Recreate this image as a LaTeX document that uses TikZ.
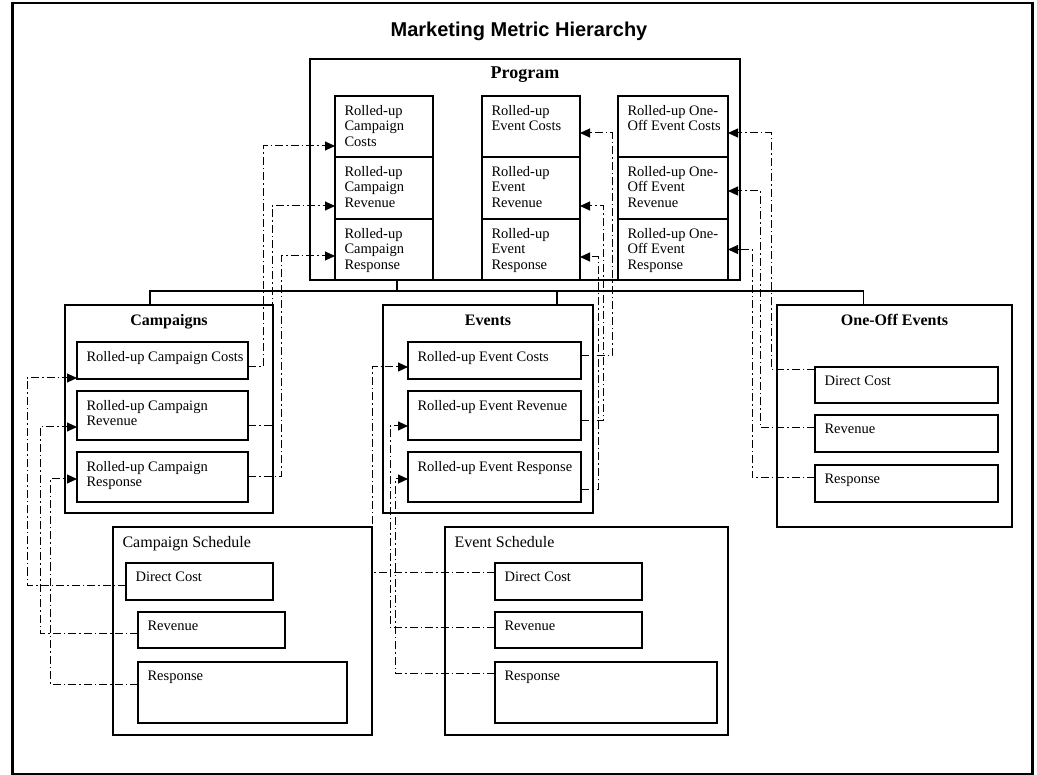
\documentclass[tikz,border=0pt]{standalone}
\usepackage{fontspec}
\setmainfont{Liberation Serif}
\newfontfamily\headfont{Liberation Sans}
\usepackage{tikz}
\usetikzlibrary{arrows.meta,positioning}

\begin{document}
\begin{tikzpicture}[
    x=1pt, y=-1pt,
    box/.style={draw, line width=1.2pt, anchor=north west, inner sep=0pt, outer sep=0pt},
    rootgroup/.style={box, label={[anchor=north, yshift=-4pt, font=\fontsize{18}{20}\selectfont\bfseries]north:#1}},
    group/.style={box, label={[anchor=north, yshift=-6pt, font=\fontsize{16}{18}\selectfont\bfseries]north:#1}},
    sched/.style={box, label={[anchor=north west, xshift=6pt, yshift=-6pt, font=\fontsize{16}{18}\selectfont]north west:#1}},
    cell/.style={box, label={[anchor=north west, xshift=6pt, yshift=-5.5pt, align=left, font=\fontsize{14.5}{15.5}\selectfont]north west:#1}},
    flow/.style={-{Triangle[length=10pt,width=9pt]}, line width=1pt, dash pattern=on 8pt off 3pt on 1.5pt off 3pt},
    tree/.style={line width=1.2pt}
]
\useasboundingbox (0,0) rectangle (1037,775);
\node[draw, line width=2.5pt, anchor=north west, inner sep=0pt, minimum width=1020pt, minimum height=771pt] (frame) at (11,2) {};

% Title
\node[font=\headfont\bfseries\fontsize{20}{22}\selectfont] (title) at (519,31) {Marketing Metric Hierarchy};

% Program
\node[rootgroup=Program, minimum width=430pt, minimum height=221pt] (program) at (310,59) {};
\node[cell={Rolled-up\\Campaign\\Costs}, minimum width=98pt, minimum height=61pt] (pc1) at (335,96) {};
\node[cell={Rolled-up\\Campaign\\Revenue}, minimum width=98pt, minimum height=62pt, below=0pt of pc1] (pc2) {};
\node[cell={Rolled-up\\Campaign\\Response}, minimum width=98pt, minimum height=61pt, below=0pt of pc2] (pc3) {};
\node[cell={Rolled-up\\Event Costs}, minimum width=98pt, minimum height=61pt] (pe1) at (482,96) {};
\node[cell={Rolled-up\\Event\\Revenue}, minimum width=98pt, minimum height=62pt, below=0pt of pe1] (pe2) {};
\node[cell={Rolled-up\\Event\\Response}, minimum width=98pt, minimum height=61pt, below=0pt of pe2] (pe3) {};
\node[cell={Rolled-up One-\\Off Event Costs}, minimum width=110pt, minimum height=61pt] (po1) at (618,96) {};
\node[cell={Rolled-up One-\\Off Event\\Revenue}, minimum width=110pt, minimum height=62pt, below=0pt of po1] (po2) {};
\node[cell={Rolled-up One-\\Off Event\\Response}, minimum width=110pt, minimum height=61pt, below=0pt of po2] (po3) {};

% Campaigns
\node[group=Campaigns, minimum width=208pt, minimum height=208pt] (campaigns) at (65,305) {};
\node[cell={Rolled-up Campaign Costs}, minimum width=171pt, minimum height=37pt] (cc1) at (77,342) {};
\node[cell={Rolled-up Campaign\\Revenue}, minimum width=171pt, minimum height=49pt, below=12pt of cc1] (cc2) {};
\node[cell={Rolled-up Campaign\\Response}, minimum width=171pt, minimum height=50pt, below=12pt of cc2] (cc3) {};

% Events
\node[group=Events, minimum width=210pt, minimum height=208pt] (events) at (383,305) {};
\node[cell={Rolled-up Event Costs}, minimum width=173pt, minimum height=37pt] (ec1) at (408,342) {};
\node[cell={Rolled-up Event Revenue}, minimum width=173pt, minimum height=49pt, below=12pt of ec1] (ec2) {};
\node[cell={Rolled-up Event Response}, minimum width=173pt, minimum height=50pt, below=12pt of ec2] (ec3) {};

% One-Off Events
\node[group=One-Off Events, minimum width=235pt, minimum height=222pt] (oneoff) at (777,305) {};
\node[cell={Direct Cost}, minimum width=183pt, minimum height=36pt] (od1) at (815,367) {};
\node[cell={Revenue}, minimum width=183pt, minimum height=37pt, below=12pt of od1] (od2) {};
\node[cell={Response}, minimum width=183pt, minimum height=37pt, below=13pt of od2] (od3) {};

% Schedules
\node[sched=Campaign Schedule, minimum width=259pt, minimum height=208pt] (campsched) at (113,527) {};
\node[cell={Direct Cost}, minimum width=147pt, minimum height=37pt] (csd) at (126,563) {};
\node[cell={Revenue}, minimum width=147pt, minimum height=36pt] (csr) at (138,612) {};
\node[cell={Response}, minimum width=209pt, minimum height=61pt] (csp) at (138,662) {};

\node[sched=Event Schedule, minimum width=283pt, minimum height=208pt] (eventsched) at (445,527) {};
\node[cell={Direct Cost}, minimum width=147pt, minimum height=37pt] (esd) at (495,563) {};
\node[cell={Revenue}, minimum width=147pt, minimum height=36pt] (esr) at (495,612) {};
\node[cell={Response}, minimum width=222pt, minimum height=61pt] (esp) at (495,662) {};

% Hierarchy lines
\draw[tree] ([xshift=87pt]program.south west) -- ++(0,11) coordinate (bus);
\draw[tree] ([xshift=-19pt]campaigns.north) |- (bus) -| ([xshift=-31pt]oneoff.north);
\draw[tree] ([xshift=69pt]events.north) |- (bus);

% Arrows - roll up into Program
\draw[flow] ([yshift=-6.5pt]cc1.east) -- ++(15,0) |- ([yshift=-19.5pt]pc1.west);
\draw[flow] ([yshift=-10.5pt]cc2.east) -- ++(24,0) |- ([yshift=-18pt]pc2.west);
\draw[flow] (cc3.east) -- ++(33,0) |- ([yshift=-6.5pt]pc3.west);
\draw[flow] ([yshift=4.5pt]ec1.east) -- ++(31,0) |- ([yshift=-6.5pt]pe1.east);
\draw[flow] ([yshift=-5.5pt]ec2.east) -- ++(22,0) |- ([yshift=-18pt]pe2.east);
\draw[flow] ([yshift=-13pt]ec3.east) -- ++(17,0) |- ([yshift=-7.5pt]pe3.east);
\draw[flow] ([yshift=15pt]od1.west) -- ++(-44,0) |- ([yshift=-6.5pt]po1.east);
\draw[flow] ([yshift=5.5pt]od2.west) -- ++(-55,0) |- ([yshift=-3pt]po2.east);
\draw[flow] ([yshift=5.5pt]od3.west) -- ++(-63,0) |- (po3.east);

% Arrows - schedules into Campaigns / Events
\draw[flow] ([yshift=-3.5pt]csd.west) -- ++(-99,0) |- ([yshift=-17.5pt]cc1.west);
\draw[flow] ([yshift=-3pt]csr.west) -- ++(-98,0) |- ([yshift=-11.5pt]cc2.west);
\draw[flow] ([yshift=8.5pt]csp.west) -- ++(-88,0) |- ([yshift=-2pt]cc3.west);
\draw[flow] ([yshift=9.5pt]esd.west) -- ++(-123,0) |- ([yshift=-6.5pt]ec1.west);
\draw[flow] ([yshift=3pt]esr.west) -- ++(-105,0) |- ([yshift=-10.5pt]ec2.west);
\draw[flow] ([yshift=19.5pt]esp.west) -- ++(-100,0) |- ([yshift=-2pt]ec3.west);

\end{tikzpicture}
\end{document}
